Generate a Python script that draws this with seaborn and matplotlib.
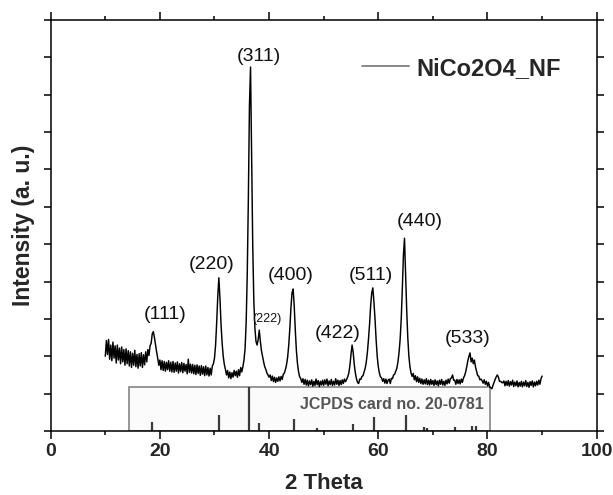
import numpy as np
import pandas as pd
import seaborn as sns
import matplotlib.pyplot as plt
from matplotlib.lines import Line2D
from matplotlib.patches import Rectangle
from matplotlib.ticker import MultipleLocator

# XRD scan of NiCo2O4 on nickel foam, 10-90 deg in 0.2 deg steps
two_theta = np.round(np.arange(10.0, 90.01, 0.2), 1)
intensity = [
    2.00, 2.42, 2.05, 2.45, 1.92, 2.30, 1.88, 2.38, 1.95, 2.28, 1.82, 2.30, 1.90, 2.22, 1.80, 2.25, 1.85, 2.18, 1.76, 2.20,
    1.80, 2.15, 1.74, 2.12, 1.70, 2.08, 1.76, 2.16, 1.72, 2.05, 1.68, 2.07, 1.74, 2.10, 1.70, 2.04, 1.77, 2.12, 1.85, 2.18,
    2.02, 2.28, 2.35, 2.60, 2.66, 2.50, 2.30, 2.12, 1.95, 1.76, 1.90, 1.64, 1.88, 1.62, 1.86, 1.60, 1.84, 1.64, 1.88, 1.60,
    1.84, 1.58, 1.86, 1.57, 1.82, 1.60, 1.85, 1.55, 1.80, 1.59, 1.83, 1.56, 1.81, 1.60, 1.78, 1.53, 1.92, 1.57, 1.79, 1.55,
    1.78, 1.53, 1.76, 1.51, 1.77, 1.54, 1.74, 1.49, 1.75, 1.52, 1.72, 1.48, 1.74, 1.50, 1.70, 1.47, 1.68, 1.50, 1.74, 1.80,
    1.95, 2.30, 2.90, 3.60, 4.10, 3.55, 2.85, 2.35, 2.00, 1.78, 1.65, 1.50, 1.62, 1.42, 1.58, 1.40, 1.56, 1.44, 1.62, 1.48,
    1.60, 1.44, 1.64, 1.48, 1.70, 1.58, 1.72, 1.90, 2.20, 2.90, 4.20, 6.20, 8.70, 9.74, 7.30, 5.00, 3.50, 2.75, 2.40, 2.30,
    2.45, 2.70, 2.40, 2.15, 2.00, 1.85, 1.72, 1.65, 1.55, 1.50, 1.44, 1.50, 1.35, 1.47, 1.32, 1.44, 1.30, 1.42, 1.33, 1.45,
    1.34, 1.46, 1.38, 1.52, 1.55, 1.65, 1.78, 1.98, 2.30, 2.75, 3.30, 3.70, 3.80, 3.35, 2.70, 2.15, 1.80, 1.58, 1.45, 1.40,
    1.30, 1.40, 1.25, 1.38, 1.23, 1.36, 1.21, 1.34, 1.24, 1.37, 1.20, 1.33, 1.22, 1.39, 1.24, 1.35, 1.19, 1.33, 1.23, 1.36,
    1.22, 1.37, 1.25, 1.39, 1.21, 1.34, 1.24, 1.38, 1.22, 1.33, 1.23, 1.40, 1.25, 1.36, 1.22, 1.35, 1.24, 1.37, 1.27, 1.39,
    1.32, 1.38, 1.45, 1.55, 1.75, 2.05, 2.30, 2.10, 1.78, 1.55, 1.40, 1.30, 1.27, 1.39, 1.38, 1.46, 1.48, 1.58, 1.68, 1.85,
    2.10, 2.45, 2.85, 3.35, 3.70, 3.83, 3.45, 3.00, 2.45, 2.00, 1.72, 1.55, 1.45, 1.42, 1.33, 1.40, 1.28, 1.39, 1.27, 1.36,
    1.39, 1.27, 1.41, 1.40, 1.50, 1.52, 1.60, 1.68, 1.85, 2.10, 2.45, 3.00, 3.80, 4.70, 5.16, 4.20, 3.25, 2.50, 2.00, 1.72,
    1.55, 1.46, 1.54, 1.37, 1.48, 1.32, 1.45, 1.30, 1.41, 1.27, 1.39, 1.25, 1.37, 1.26, 1.40, 1.24, 1.36, 1.23, 1.38, 1.25,
    1.35, 1.22, 1.37, 1.24, 1.34, 1.21, 1.36, 1.25, 1.38, 1.23, 1.33, 1.22, 1.36, 1.26, 1.39, 1.28, 1.40, 1.42, 1.50, 1.36,
    1.36, 1.25, 1.38, 1.27, 1.37, 1.26, 1.39, 1.30, 1.42, 1.48, 1.58, 1.72, 1.88, 2.00, 2.09, 1.85, 1.95, 1.80, 1.90, 1.72,
    1.60, 1.48, 1.47, 1.37, 1.39, 1.35, 1.28, 1.37, 1.25, 1.33, 1.21, 1.30, 1.18, 1.16, 1.13, 1.22, 1.30, 1.38, 1.45, 1.50,
    1.44, 1.33, 1.33, 1.30, 1.29, 1.34, 1.21, 1.33, 1.22, 1.35, 1.20, 1.32, 1.23, 1.36, 1.19, 1.31, 1.21, 1.34, 1.18, 1.30,
    1.20, 1.33, 1.18, 1.31, 1.21, 1.35, 1.19, 1.30, 1.17, 1.32, 1.22, 1.34, 1.18, 1.31, 1.21, 1.33, 1.23, 1.36, 1.25, 1.40,
    1.47,
]

# Miller indices of the spinel reflections and where their labels sit
hkl_text = ["(111)", "(220)", "(311)", "(222)", "(400)", "(422)", "(511)", "(440)", "(533)"]
hkl_x = [21.0, 29.5, 38.1, 39.6, 44.0, 52.5, 58.7, 67.6, 76.3]
hkl_y = [3.11, 4.45, 10.01, 3.00, 4.15, 2.62, 4.17, 5.60, 2.48]
hkl_size = [14, 14, 14, 9, 14, 14, 14, 14, 14]

# Reference pattern, JCPDS card no. 20-0781
jcpds_pos = [18.5, 30.9, 36.3, 38.15, 44.55, 48.7, 55.4, 59.2, 65.1, 68.4, 68.9, 74.0, 77.1, 77.9]
jcpds_height = [0.24, 0.43, 1.18, 0.21, 0.32, 0.08, 0.19, 0.37, 0.43, 0.11, 0.08, 0.11, 0.13, 0.13]

df = pd.DataFrame({"two_theta": two_theta, "intensity": intensity})

sns.set_style("ticks")
plt.rcParams["font.family"] = ["Liberation Sans", "DejaVu Sans"]

fig = plt.figure(figsize=(6.13, 4.95), dpi=100)
ax = fig.add_axes([0.0827, 0.1293, 0.8907, 0.8303])

sns.lineplot(data=df, x="two_theta", y="intensity", color="black", lw=1.05, ax=ax, legend=False)

# card inset along the bottom of the axes
ax.add_patch(Rectangle((14.4, 0), 66.05, 1.18, facecolor="#fbfbfb", edgecolor="#858585",
                       lw=1.2, zorder=1))
ax.vlines(jcpds_pos, 0, jcpds_height, colors="#3a3a3a", lw=1.6, zorder=2)
ax.text(62.5, 0.70, "JCPDS card no. 20-0781", ha="center", va="center", fontsize=11.5,
        fontweight="bold", color="#555555", zorder=3)

for t, x, y, s in zip(hkl_text, hkl_x, hkl_y, hkl_size):
    ax.text(x, y, t, ha="center", va="center", fontsize=s, color="#111111")

ax.set_xlim(0, 100)
ax.set_ylim(0, 11)
ax.xaxis.set_major_locator(MultipleLocator(20))
ax.xaxis.set_minor_locator(MultipleLocator(10))
ax.yaxis.set_major_locator(MultipleLocator(1))
ax.tick_params(axis="both", which="both", direction="out", width=1.1, color="black")
ax.tick_params(axis="x", which="major", length=5.8, top=True, bottom=True, pad=3,
               labelsize=14)
ax.tick_params(axis="x", which="minor", length=3.2, top=True, bottom=True)
ax.tick_params(axis="y", which="major", length=5.2, left=True, right=True,
               labelleft=False, labelright=False)
for lab in ax.get_xticklabels():
    lab.set_fontweight("bold")
for sp in ax.spines.values():
    sp.set_visible(True)
    sp.set_linewidth(1.1)
    sp.set_color("black")

ax.set_xlabel("2 Theta", fontsize=16, fontweight="bold", labelpad=9)
ax.set_ylabel("Intensity (a. u.)", fontsize=16.5, fontweight="bold", labelpad=6)

handle = Line2D([], [], color="#808080", lw=1.3)
ax.legend([handle], ["NiCo2O4_NF"], loc="center left", bbox_to_anchor=(0.571, 0.883),
          frameon=False, borderpad=0, borderaxespad=0, handlelength=1.95,
          handletextpad=0.35, prop={"size": 17, "weight": "bold"})

fig.savefig("out.png", dpi=100)
